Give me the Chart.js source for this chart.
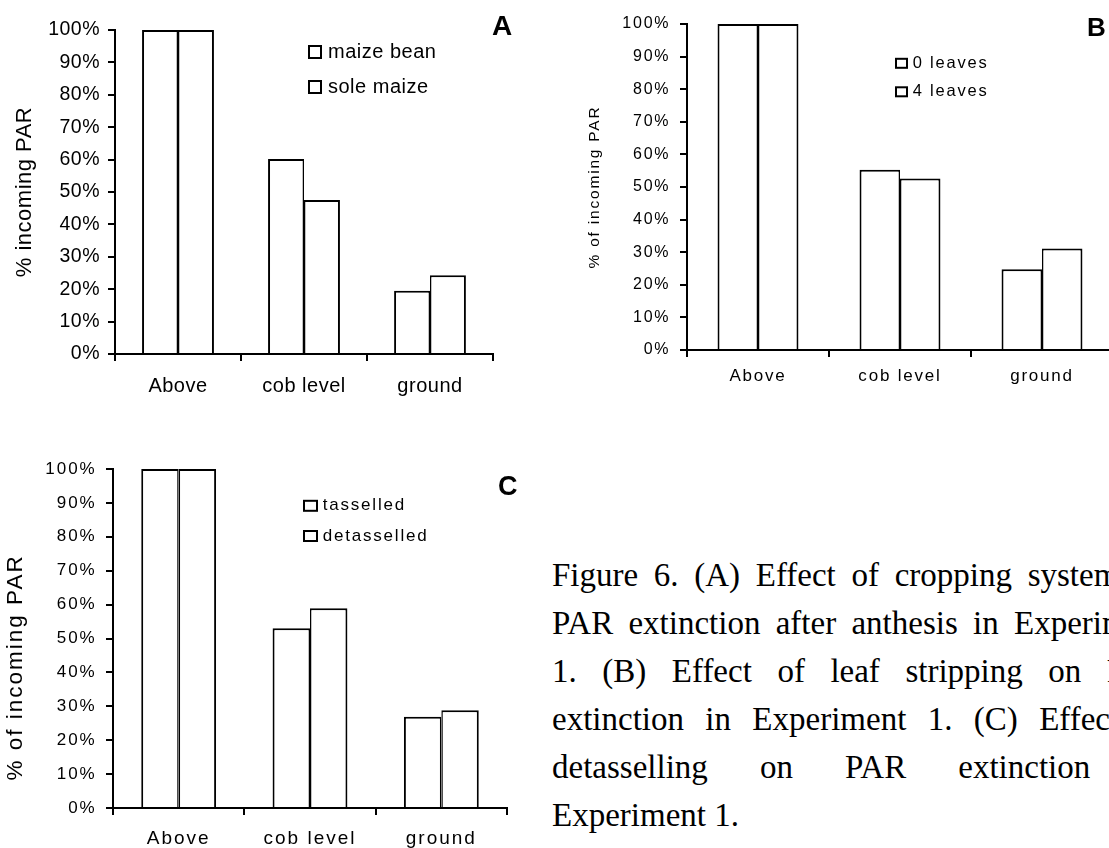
<!DOCTYPE html>
<html>
<head>
<meta charset="utf-8">
<script src="https://cdn.jsdelivr.net/npm/chart.js@4.4.1/dist/chart.umd.min.js"></script>
<style>
  html, body { margin:0; padding:0; background:#fff; }
  body { width:1109px; height:848px; overflow:hidden; position:relative; }
  canvas { position:absolute; }
  #cap { position:absolute; left:552px; top:552px; width:616px; font-family:'Liberation Serif','Times New Roman',serif; font-size:33px; line-height:47.9px; color:#000; }
  #cap .j { text-align:justify; text-align-last:justify; }
</style>
</head>
<body>
<canvas id="cA" width="520" height="420" style="left:0px;top:0px;"></canvas>
<canvas id="cB" width="560" height="420" style="left:560px;top:0px;"></canvas>
<canvas id="cC" width="520" height="408" style="left:0px;top:440px;"></canvas>
<div id="cap">
  <div class="j">Figure 6. (A) Effect of cropping system on</div>
  <div class="j">PAR extinction after anthesis in Experiment</div>
  <div class="j">1. (B) Effect of leaf stripping on PAR</div>
  <div class="j">extinction in Experiment 1. (C) Effect of</div>
  <div class="j">detasselling on PAR extinction in</div>
  <div>Experiment 1.</div>
</div>
<script>
// ---------- data ----------
const categories = ['Above', 'cob level', 'ground'];
const yTickValues = [0, 10, 20, 30, 40, 50, 60, 70, 80, 90, 100];

const seriesLabelsA = ['maize bean', 'sole maize'];
const maizeBean = [100, 60.2, 19.5];
const soleMaize = [100, 47.5, 24.3];

const seriesLabelsB = ['0 leaves', '4 leaves'];
const leaves0 = [100, 55.3, 24.8];
const leaves4 = [100, 52.6, 31.1];

const seriesLabelsC = ['tasselled', 'detasselled'];
const tasselled = [100, 53.0, 26.9];
const detasselled = [100, 58.9, 28.8];

const yTitleA = '% incoming PAR';
const yTitleB = '% of incoming PAR';
const yTitleC = '% of incoming PAR';
// ---------------------------

const FONT = "'Liberation Sans', Arial, sans-serif";

const spacingPlugin = {
  id: 'spacing',
  beforeLayout(chart, args, opts) { chart.ctx.letterSpacing = opts.value || '0px'; },
  beforeDraw(chart, args, opts) { chart.ctx.letterSpacing = opts.value || '0px'; }
};

const overlayPlugin = {
  id: 'overlay',
  afterDraw(chart, args, o) {
    const ctx = chart.ctx;
    ctx.save();
    ctx.letterSpacing = o.spacing || '0px';
    ctx.font = o.font;
    ctx.textBaseline = 'middle';
    ctx.textAlign = 'left';
    chart.data.datasets.forEach((ds, i) => {
      const cy = o.y + i * o.dy;
      ctx.fillStyle = '#fff';
      ctx.fillRect(o.x, cy - o.bh / 2, o.bw, o.bh);
      ctx.strokeStyle = '#000';
      ctx.lineWidth = 2;
      ctx.strokeRect(o.x + 1, cy - o.bh / 2 + 1, o.bw - 2, o.bh - 2);
      ctx.fillStyle = '#000';
      ctx.fillText(ds.label, o.tx, cy);
    });
    ctx.letterSpacing = '0px';
    ctx.font = o.letterFont;
    ctx.textBaseline = 'alphabetic';
    ctx.fillText(o.letter, o.lx, o.ly);
    ctx.restore();
  }
};

function makeChart(id, labels, d1, d2, cfg) {
  const axisGrid = { display: true, drawOnChartArea: false, drawTicks: true, tickLength: 7, color: '#000', lineWidth: 2 };
  const axisBorder = { display: true, color: '#000', width: 2 };
  return new Chart(document.getElementById(id), {
    type: 'bar',
    data: {
      labels: categories,
      datasets: [
        { label: labels[0], data: d1, backgroundColor: '#fff', borderColor: '#000',
          borderWidth: { top: 2, left: 2, right: 1.5, bottom: 0 }, borderSkipped: false,
          categoryPercentage: 0.57, barPercentage: 1.0 },
        { label: labels[1], data: d2, backgroundColor: '#fff', borderColor: '#000',
          borderWidth: { top: 2, left: 1.5, right: 2, bottom: 0 }, borderSkipped: false,
          categoryPercentage: 0.57, barPercentage: 1.0 }
      ]
    },
    options: {
      responsive: false,
      animation: false,
      devicePixelRatio: 1,
      layout: { padding: cfg.padding },
      plugins: {
        legend: { display: false },
        tooltip: { enabled: false },
        title: { display: false },
        spacing: { value: cfg.spacing },
        overlay: cfg.overlay
      },
      scales: {
        x: {
          type: 'category',
          grid: Object.assign({}, axisGrid, { offset: true }),
          border: axisBorder,
          ticks: { color: '#000', font: { family: FONT, size: cfg.xFont }, padding: cfg.xPad, maxRotation: 0, autoSkip: false },
          afterFit(s) { s.height = cfg.xHeight; }
        },
        y: {
          min: 0, max: 100,
          afterBuildTicks(s) { s.ticks = yTickValues.map(v => ({ value: v })); },
          grid: axisGrid,
          border: axisBorder,
          ticks: { color: '#000', font: { family: FONT, size: cfg.yFont }, padding: cfg.yPad,
                   callback: v => v + '%' },
          title: { display: true, text: cfg.yTitle, color: '#000',
                   font: { family: FONT, size: cfg.titleFont }, padding: { top: cfg.titlePad, bottom: 0 } },
          afterFit(s) { s.width = cfg.yWidth; }
        }
      }
    },
    plugins: [spacingPlugin, overlayPlugin]
  });
}

makeChart('cA', seriesLabelsA, maizeBean, soleMaize, {
  padding: { left: 0, top: 30, right: 27, bottom: 0 },
  yWidth: 115, xHeight: 66,
  spacing: '0.5px',
  xFont: 20, xPad: 13, yFont: 19.5, yPad: 8,
  yTitle: yTitleA, titleFont: 22, titlePad: 12,
  overlay: { font: '20px ' + FONT, spacing: '0.5px', x: 308, y: 52, dy: 35, bw: 14, bh: 14, tx: 328,
             letter: 'A', letterFont: 'bold 28px ' + FONT, lx: 492, ly: 35 }
});

makeChart('cB', seriesLabelsB, leaves0, leaves4, {
  padding: { left: 0, top: 24, right: 7, bottom: 0 },
  yWidth: 127, xHeight: 70,
  spacing: '1.8px',
  xFont: 17, xPad: 9.5, yFont: 16, yPad: 9.6,
  yTitle: yTitleB, titleFont: 15.5, titlePad: 25.7,
  overlay: { font: '16.5px ' + FONT, spacing: '1.8px', x: 335, y: 63.3, dy: 28.5, bw: 13, bh: 11, tx: 352.7,
             letter: 'B', letterFont: 'bold 26px ' + FONT, lx: 527, ly: 36 }
});

makeChart('cC', seriesLabelsC, tasselled, detasselled, {
  padding: { left: 0, top: 29, right: 13, bottom: 0 },
  yWidth: 113, xHeight: 40,
  spacing: '2px',
  xFont: 19, xPad: 12, yFont: 17, yPad: 9.3,
  yTitle: yTitleC + '       ', titleFont: 22.5, titlePad: 2.5,
  overlay: { font: '17px ' + FONT, spacing: '1.8px', x: 303, y: 65.8, dy: 30.2, bw: 15, bh: 12, tx: 322.7,
             letter: 'C', letterFont: 'bold 27px ' + FONT, lx: 498, ly: 55 }
});
</script>
</body>
</html>
